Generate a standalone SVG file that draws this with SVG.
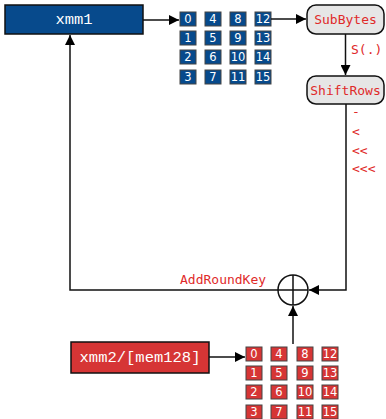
<svg xmlns="http://www.w3.org/2000/svg" width="386" height="419" viewBox="0 0 386 419">
  <defs>
    <marker id="arrow" viewBox="0 0 10 10" refX="10" refY="5" markerWidth="10" markerHeight="10" markerUnits="userSpaceOnUse" orient="auto">
      <path d="M0,0 L10,5 L0,10 z" fill="#000"/>
    </marker>
    <style>
      .reg { stroke: #111; stroke-width: 1.5; }
      .blue { fill: #074a8c; }
      .red { fill: #d63535; }
      .regtxt { font-family: "Liberation Mono", "DejaVu Sans Mono", monospace; font-size: 15.5px; fill: #fff; text-anchor: middle; dominant-baseline: central; }
      .op { fill: #e6e6e6; stroke: #111; stroke-width: 1.5; }
      .optxt { font-family: "DejaVu Sans Mono", monospace; font-size: 13px; fill: #e02a2a; text-anchor: middle; dominant-baseline: central; }
      .lbl { font-family: "DejaVu Sans Mono", monospace; font-size: 13px; fill: #e02a2a; }
      .cell { stroke: #444; stroke-width: 1; }
      .celltxt { font-family: "DejaVu Sans", sans-serif; font-size: 11.5px; fill: #fff; text-anchor: middle; dominant-baseline: central; }
      .wire { fill: none; stroke: #111; stroke-width: 1.5; }
    </style>
  </defs>

  <!-- destination register -->
  <g id="xmm1">
    <rect class="reg blue" x="5" y="5" width="138" height="29"/>
    <text class="regtxt" x="74" y="20">xmm1</text>
  </g>

  <!-- state bytes (column-major) -->
  <g id="state-grid">
    <g class="blue">
      <rect class="cell" x="180" y="12" width="16" height="14"/><rect class="cell" x="205" y="12" width="16" height="14"/><rect class="cell" x="230" y="12" width="16" height="14"/><rect class="cell" x="255" y="12" width="16" height="14"/>
      <rect class="cell" x="180" y="31" width="16" height="14"/><rect class="cell" x="205" y="31" width="16" height="14"/><rect class="cell" x="230" y="31" width="16" height="14"/><rect class="cell" x="255" y="31" width="16" height="14"/>
      <rect class="cell" x="180" y="50" width="16" height="14"/><rect class="cell" x="205" y="50" width="16" height="14"/><rect class="cell" x="230" y="50" width="16" height="14"/><rect class="cell" x="255" y="50" width="16" height="14"/>
      <rect class="cell" x="180" y="70" width="16" height="14"/><rect class="cell" x="205" y="70" width="16" height="14"/><rect class="cell" x="230" y="70" width="16" height="14"/><rect class="cell" x="255" y="70" width="16" height="14"/>
    </g>
    <g class="celltxt">
      <text x="188" y="19">0</text><text x="213" y="19">4</text><text x="238" y="19">8</text><text x="263" y="19">12</text>
      <text x="188" y="38">1</text><text x="213" y="38">5</text><text x="238" y="38">9</text><text x="263" y="38">13</text>
      <text x="188" y="57">2</text><text x="213" y="57">6</text><text x="238" y="57">10</text><text x="263" y="57">14</text>
      <text x="188" y="77">3</text><text x="213" y="77">7</text><text x="238" y="77">11</text><text x="263" y="77">15</text>
    </g>
  </g>

  <g id="subbytes">
    <rect class="op" x="307" y="5" width="77" height="29" rx="9"/>
    <text class="optxt" x="345.5" y="19.5">SubBytes</text>
  </g>

  <g id="shiftrows">
    <rect class="op" x="307" y="76" width="77" height="28" rx="9"/>
    <text class="optxt" x="345.5" y="90">ShiftRows</text>
  </g>

  <!-- XOR -->
  <g id="addroundkey">
    <circle cx="293" cy="290" r="15" fill="#fff" stroke="#111" stroke-width="1.5"/>
    <path d="M278,290 H308 M293,275 V305" stroke="#111" stroke-width="1.5"/>
    <text class="lbl" x="180" y="284">AddRoundKey</text>
  </g>

  <!-- source operand -->
  <g id="xmm2">
    <rect class="reg red" x="71" y="342" width="138" height="31"/>
    <text class="regtxt" x="140" y="357.5">xmm2/[mem128]</text>
  </g>

  <g id="key-grid">
    <g class="red">
      <rect class="cell" x="246" y="347" width="16" height="14"/><rect class="cell" x="271" y="347" width="16" height="14"/><rect class="cell" x="297" y="347" width="16" height="14"/><rect class="cell" x="322" y="347" width="16" height="14"/>
      <rect class="cell" x="246" y="366" width="16" height="14"/><rect class="cell" x="271" y="366" width="16" height="14"/><rect class="cell" x="297" y="366" width="16" height="14"/><rect class="cell" x="322" y="366" width="16" height="14"/>
      <rect class="cell" x="246" y="385" width="16" height="14"/><rect class="cell" x="271" y="385" width="16" height="14"/><rect class="cell" x="297" y="385" width="16" height="14"/><rect class="cell" x="322" y="385" width="16" height="14"/>
      <rect class="cell" x="246" y="405" width="16" height="14"/><rect class="cell" x="271" y="405" width="16" height="14"/><rect class="cell" x="297" y="405" width="16" height="14"/><rect class="cell" x="322" y="405" width="16" height="14"/>
    </g>
    <g class="celltxt">
      <text x="254" y="354">0</text><text x="279" y="354">4</text><text x="305" y="354">8</text><text x="330" y="354">12</text>
      <text x="254" y="373">1</text><text x="279" y="373">5</text><text x="305" y="373">9</text><text x="330" y="373">13</text>
      <text x="254" y="392">2</text><text x="279" y="392">6</text><text x="305" y="392">10</text><text x="330" y="392">14</text>
      <text x="254" y="412">3</text><text x="279" y="412">7</text><text x="305" y="412">11</text><text x="330" y="412">15</text>
    </g>
  </g>

  <!-- connectors -->
  <g id="connectors">
    <path class="wire" d="M143,20 H179" marker-end="url(#arrow)"/>
    <path class="wire" d="M271,19 H306" marker-end="url(#arrow)"/>
    <path class="wire" d="M345.5,34 V75" marker-end="url(#arrow)"/>
    <path class="wire" d="M346,104 V290 H309" marker-end="url(#arrow)"/>
    <path class="wire" d="M278,290 H70 V35" marker-end="url(#arrow)"/>
    <path class="wire" d="M209,357 H245" marker-end="url(#arrow)"/>
    <path class="wire" d="M293,344 V306" marker-end="url(#arrow)"/>
    <text class="lbl" x="351" y="54">S(.)</text>
    <text class="lbl" x="352" y="116">-</text>
    <text class="lbl" x="352" y="136">&lt;</text>
    <text class="lbl" x="352" y="155">&lt;&lt;</text>
    <text class="lbl" x="352" y="173">&lt;&lt;&lt;</text>
  </g>
</svg>
